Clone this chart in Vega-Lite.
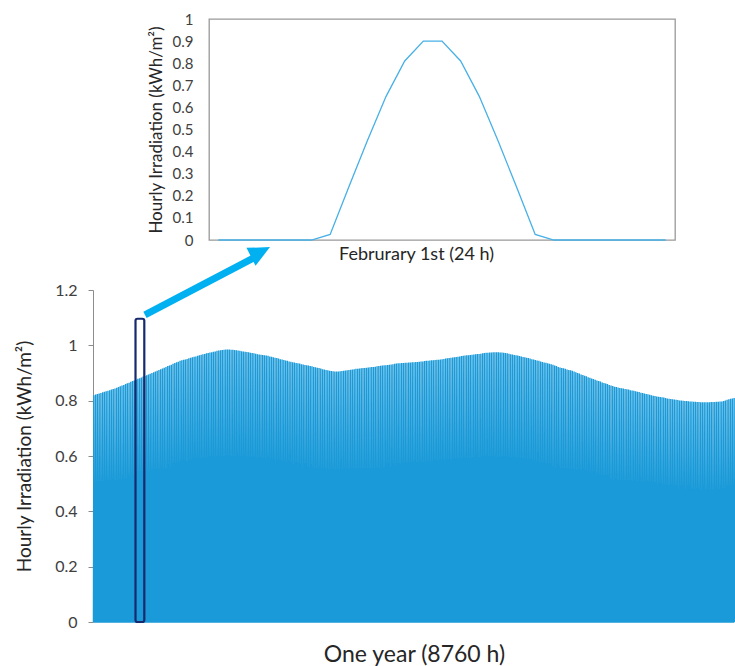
{"$schema":"https://vega.github.io/schema/vega-lite/v6.json","background":"white","padding":{"left":15,"top":11,"right":0,"bottom":0},"config":{"font":"Lato","axis":{"labelColor":"#404040","titleColor":"#262626","titleFontWeight":"normal","grid":false}},"spacing":-17,"vconcat":[{"spacing":0,"hconcat":[{"width":53,"height":1,"data":{"values":[]},"mark":"point","view":{"fill":"white","stroke":null}},{"width":466,"height":221,"view":{"stroke":"#999999","strokeWidth":1.3},"data":{"values":[{"h":0,"v":0},{"h":1,"v":0},{"h":2,"v":0},{"h":3,"v":0},{"h":4,"v":0},{"h":5,"v":0},{"h":6,"v":0.025},{"h":7,"v":0.24},{"h":8,"v":0.45},{"h":9,"v":0.65},{"h":10,"v":0.81},{"h":11,"v":0.9},{"h":12,"v":0.9},{"h":13,"v":0.81},{"h":14,"v":0.65},{"h":15,"v":0.45},{"h":16,"v":0.24},{"h":17,"v":0.025},{"h":18,"v":0},{"h":19,"v":0},{"h":20,"v":0},{"h":21,"v":0},{"h":22,"v":0},{"h":23,"v":0},{"h":24,"v":0}]},"mark":{"type":"line","color":"#47b0e6","strokeWidth":1.3},"encoding":{"x":{"field":"h","type":"quantitative","scale":{"domain":[-0.5,24.5],"nice":false,"zero":false},"axis":{"title":"Februrary 1st (24 h)","labels":false,"ticks":false,"domain":false,"titleFontSize":18,"titlePadding":5,"titleX":207}},"y":{"field":"v","type":"quantitative","scale":{"domain":[0,1],"nice":false},"axis":{"title":"Hourly Irradiation (kWh/m²)","values":[0,0.1,0.2,0.3,0.4,0.5,0.6,0.7,0.8,0.9,1],"format":"~g","ticks":false,"domain":false,"labelFontSize":15,"labelPadding":16,"titleFontSize":17,"titlePadding":7}}}}]},{"width":642,"height":332,"view":{"stroke":null},"encoding":{"x":{"field":"h","type":"quantitative","scale":{"domain":[0,8760],"nice":false,"zero":false},"axis":{"title":"One year (8760 h)","labels":false,"ticks":false,"domain":false,"titleFontSize":23,"titlePadding":21}},"y":{"field":"v","type":"quantitative","scale":{"domain":[0,1.2],"nice":false},"axis":{"title":"Hourly Irradiation (kWh/m²)","values":[0,0.2,0.4,0.6,0.8,1,1.2],"format":"~g","domainColor":"#8c8c8c","tickColor":"#8c8c8c","tickSize":5,"labelFontSize":16,"labelPadding":11,"titleFontSize":19,"titlePadding":20}}},"layer":[{"data":{"values":[{"h":6,"v":0},{"h":12,"v":0.82},{"h":18,"v":0},{"h":30,"v":0},{"h":36,"v":0.822},{"h":42,"v":0},{"h":54,"v":0},{"h":60,"v":0.824},{"h":66,"v":0},{"h":78,"v":0},{"h":84,"v":0.826},{"h":90,"v":0},{"h":102,"v":0},{"h":108,"v":0.828},{"h":114,"v":0},{"h":126,"v":0},{"h":132,"v":0.83},{"h":138,"v":0},{"h":150,"v":0},{"h":156,"v":0.832},{"h":162,"v":0},{"h":174,"v":0},{"h":180,"v":0.834},{"h":186,"v":0},{"h":198,"v":0},{"h":204,"v":0.836},{"h":210,"v":0},{"h":222,"v":0},{"h":228,"v":0.838},{"h":234,"v":0},{"h":246,"v":0},{"h":252,"v":0.84},{"h":258,"v":0},{"h":270,"v":0},{"h":276,"v":0.842},{"h":282,"v":0},{"h":294,"v":0},{"h":300,"v":0.844},{"h":306,"v":0},{"h":318,"v":0},{"h":324,"v":0.847},{"h":330,"v":0},{"h":342,"v":0},{"h":348,"v":0.849},{"h":354,"v":0},{"h":366,"v":0},{"h":372,"v":0.852},{"h":378,"v":0},{"h":390,"v":0},{"h":396,"v":0.855},{"h":402,"v":0},{"h":414,"v":0},{"h":420,"v":0.857},{"h":426,"v":0},{"h":438,"v":0},{"h":444,"v":0.86},{"h":450,"v":0},{"h":462,"v":0},{"h":468,"v":0.863},{"h":474,"v":0},{"h":486,"v":0},{"h":492,"v":0.865},{"h":498,"v":0},{"h":510,"v":0},{"h":516,"v":0.868},{"h":522,"v":0},{"h":534,"v":0},{"h":540,"v":0.871},{"h":546,"v":0},{"h":558,"v":0},{"h":564,"v":0.873},{"h":570,"v":0},{"h":582,"v":0},{"h":588,"v":0.876},{"h":594,"v":0},{"h":606,"v":0},{"h":612,"v":0.879},{"h":618,"v":0},{"h":630,"v":0},{"h":636,"v":0.881},{"h":642,"v":0},{"h":654,"v":0},{"h":660,"v":0.884},{"h":666,"v":0},{"h":678,"v":0},{"h":684,"v":0.887},{"h":690,"v":0},{"h":702,"v":0},{"h":708,"v":0.889},{"h":714,"v":0},{"h":726,"v":0},{"h":732,"v":0.892},{"h":738,"v":0},{"h":750,"v":0},{"h":756,"v":0.895},{"h":762,"v":0},{"h":774,"v":0},{"h":780,"v":0.897},{"h":786,"v":0},{"h":798,"v":0},{"h":804,"v":0.9},{"h":810,"v":0},{"h":822,"v":0},{"h":828,"v":0.903},{"h":834,"v":0},{"h":846,"v":0},{"h":852,"v":0.905},{"h":858,"v":0},{"h":870,"v":0},{"h":876,"v":0.908},{"h":882,"v":0},{"h":894,"v":0},{"h":900,"v":0.911},{"h":906,"v":0},{"h":918,"v":0},{"h":924,"v":0.914},{"h":930,"v":0},{"h":942,"v":0},{"h":948,"v":0.916},{"h":954,"v":0},{"h":966,"v":0},{"h":972,"v":0.919},{"h":978,"v":0},{"h":990,"v":0},{"h":996,"v":0.922},{"h":1002,"v":0},{"h":1014,"v":0},{"h":1020,"v":0.925},{"h":1026,"v":0},{"h":1038,"v":0},{"h":1044,"v":0.927},{"h":1050,"v":0},{"h":1062,"v":0},{"h":1068,"v":0.93},{"h":1074,"v":0},{"h":1086,"v":0},{"h":1092,"v":0.933},{"h":1098,"v":0},{"h":1110,"v":0},{"h":1116,"v":0.936},{"h":1122,"v":0},{"h":1134,"v":0},{"h":1140,"v":0.939},{"h":1146,"v":0},{"h":1158,"v":0},{"h":1164,"v":0.941},{"h":1170,"v":0},{"h":1182,"v":0},{"h":1188,"v":0.944},{"h":1194,"v":0},{"h":1206,"v":0},{"h":1212,"v":0.946},{"h":1218,"v":0},{"h":1230,"v":0},{"h":1236,"v":0.948},{"h":1242,"v":0},{"h":1254,"v":0},{"h":1260,"v":0.949},{"h":1266,"v":0},{"h":1278,"v":0},{"h":1284,"v":0.951},{"h":1290,"v":0},{"h":1302,"v":0},{"h":1308,"v":0.953},{"h":1314,"v":0},{"h":1326,"v":0},{"h":1332,"v":0.955},{"h":1338,"v":0},{"h":1350,"v":0},{"h":1356,"v":0.957},{"h":1362,"v":0},{"h":1374,"v":0},{"h":1380,"v":0.959},{"h":1386,"v":0},{"h":1398,"v":0},{"h":1404,"v":0.96},{"h":1410,"v":0},{"h":1422,"v":0},{"h":1428,"v":0.962},{"h":1434,"v":0},{"h":1446,"v":0},{"h":1452,"v":0.964},{"h":1458,"v":0},{"h":1470,"v":0},{"h":1476,"v":0.966},{"h":1482,"v":0},{"h":1494,"v":0},{"h":1500,"v":0.968},{"h":1506,"v":0},{"h":1518,"v":0},{"h":1524,"v":0.969},{"h":1530,"v":0},{"h":1542,"v":0},{"h":1548,"v":0.971},{"h":1554,"v":0},{"h":1566,"v":0},{"h":1572,"v":0.972},{"h":1578,"v":0},{"h":1590,"v":0},{"h":1596,"v":0.974},{"h":1602,"v":0},{"h":1614,"v":0},{"h":1620,"v":0.975},{"h":1626,"v":0},{"h":1638,"v":0},{"h":1644,"v":0.977},{"h":1650,"v":0},{"h":1662,"v":0},{"h":1668,"v":0.978},{"h":1674,"v":0},{"h":1686,"v":0},{"h":1692,"v":0.98},{"h":1698,"v":0},{"h":1710,"v":0},{"h":1716,"v":0.981},{"h":1722,"v":0},{"h":1734,"v":0},{"h":1740,"v":0.982},{"h":1746,"v":0},{"h":1758,"v":0},{"h":1764,"v":0.983},{"h":1770,"v":0},{"h":1782,"v":0},{"h":1788,"v":0.984},{"h":1794,"v":0},{"h":1806,"v":0},{"h":1812,"v":0.985},{"h":1818,"v":0},{"h":1830,"v":0},{"h":1836,"v":0.985},{"h":1842,"v":0},{"h":1854,"v":0},{"h":1860,"v":0.985},{"h":1866,"v":0},{"h":1878,"v":0},{"h":1884,"v":0.984},{"h":1890,"v":0},{"h":1902,"v":0},{"h":1908,"v":0.984},{"h":1914,"v":0},{"h":1926,"v":0},{"h":1932,"v":0.983},{"h":1938,"v":0},{"h":1950,"v":0},{"h":1956,"v":0.982},{"h":1962,"v":0},{"h":1974,"v":0},{"h":1980,"v":0.981},{"h":1986,"v":0},{"h":1998,"v":0},{"h":2004,"v":0.98},{"h":2010,"v":0},{"h":2022,"v":0},{"h":2028,"v":0.979},{"h":2034,"v":0},{"h":2046,"v":0},{"h":2052,"v":0.978},{"h":2058,"v":0},{"h":2070,"v":0},{"h":2076,"v":0.977},{"h":2082,"v":0},{"h":2094,"v":0},{"h":2100,"v":0.976},{"h":2106,"v":0},{"h":2118,"v":0},{"h":2124,"v":0.975},{"h":2130,"v":0},{"h":2142,"v":0},{"h":2148,"v":0.973},{"h":2154,"v":0},{"h":2166,"v":0},{"h":2172,"v":0.972},{"h":2178,"v":0},{"h":2190,"v":0},{"h":2196,"v":0.971},{"h":2202,"v":0},{"h":2214,"v":0},{"h":2220,"v":0.97},{"h":2226,"v":0},{"h":2238,"v":0},{"h":2244,"v":0.968},{"h":2250,"v":0},{"h":2262,"v":0},{"h":2268,"v":0.967},{"h":2274,"v":0},{"h":2286,"v":0},{"h":2292,"v":0.966},{"h":2298,"v":0},{"h":2310,"v":0},{"h":2316,"v":0.965},{"h":2322,"v":0},{"h":2334,"v":0},{"h":2340,"v":0.964},{"h":2346,"v":0},{"h":2358,"v":0},{"h":2364,"v":0.963},{"h":2370,"v":0},{"h":2382,"v":0},{"h":2388,"v":0.962},{"h":2394,"v":0},{"h":2406,"v":0},{"h":2412,"v":0.96},{"h":2418,"v":0},{"h":2430,"v":0},{"h":2436,"v":0.959},{"h":2442,"v":0},{"h":2454,"v":0},{"h":2460,"v":0.957},{"h":2466,"v":0},{"h":2478,"v":0},{"h":2484,"v":0.955},{"h":2490,"v":0},{"h":2502,"v":0},{"h":2508,"v":0.954},{"h":2514,"v":0},{"h":2526,"v":0},{"h":2532,"v":0.952},{"h":2538,"v":0},{"h":2550,"v":0},{"h":2556,"v":0.95},{"h":2562,"v":0},{"h":2574,"v":0},{"h":2580,"v":0.949},{"h":2586,"v":0},{"h":2598,"v":0},{"h":2604,"v":0.947},{"h":2610,"v":0},{"h":2622,"v":0},{"h":2628,"v":0.945},{"h":2634,"v":0},{"h":2646,"v":0},{"h":2652,"v":0.944},{"h":2658,"v":0},{"h":2670,"v":0},{"h":2676,"v":0.942},{"h":2682,"v":0},{"h":2694,"v":0},{"h":2700,"v":0.941},{"h":2706,"v":0},{"h":2718,"v":0},{"h":2724,"v":0.939},{"h":2730,"v":0},{"h":2742,"v":0},{"h":2748,"v":0.938},{"h":2754,"v":0},{"h":2766,"v":0},{"h":2772,"v":0.936},{"h":2778,"v":0},{"h":2790,"v":0},{"h":2796,"v":0.935},{"h":2802,"v":0},{"h":2814,"v":0},{"h":2820,"v":0.934},{"h":2826,"v":0},{"h":2838,"v":0},{"h":2844,"v":0.932},{"h":2850,"v":0},{"h":2862,"v":0},{"h":2868,"v":0.931},{"h":2874,"v":0},{"h":2886,"v":0},{"h":2892,"v":0.929},{"h":2898,"v":0},{"h":2910,"v":0},{"h":2916,"v":0.928},{"h":2922,"v":0},{"h":2934,"v":0},{"h":2940,"v":0.927},{"h":2946,"v":0},{"h":2958,"v":0},{"h":2964,"v":0.925},{"h":2970,"v":0},{"h":2982,"v":0},{"h":2988,"v":0.924},{"h":2994,"v":0},{"h":3006,"v":0},{"h":3012,"v":0.922},{"h":3018,"v":0},{"h":3030,"v":0},{"h":3036,"v":0.921},{"h":3042,"v":0},{"h":3054,"v":0},{"h":3060,"v":0.919},{"h":3066,"v":0},{"h":3078,"v":0},{"h":3084,"v":0.918},{"h":3090,"v":0},{"h":3102,"v":0},{"h":3108,"v":0.916},{"h":3114,"v":0},{"h":3126,"v":0},{"h":3132,"v":0.914},{"h":3138,"v":0},{"h":3150,"v":0},{"h":3156,"v":0.913},{"h":3162,"v":0},{"h":3174,"v":0},{"h":3180,"v":0.911},{"h":3186,"v":0},{"h":3198,"v":0},{"h":3204,"v":0.91},{"h":3210,"v":0},{"h":3222,"v":0},{"h":3228,"v":0.908},{"h":3234,"v":0},{"h":3246,"v":0},{"h":3252,"v":0.907},{"h":3258,"v":0},{"h":3270,"v":0},{"h":3276,"v":0.906},{"h":3282,"v":0},{"h":3294,"v":0},{"h":3300,"v":0.905},{"h":3306,"v":0},{"h":3318,"v":0},{"h":3324,"v":0.905},{"h":3330,"v":0},{"h":3342,"v":0},{"h":3348,"v":0.905},{"h":3354,"v":0},{"h":3366,"v":0},{"h":3372,"v":0.906},{"h":3378,"v":0},{"h":3390,"v":0},{"h":3396,"v":0.907},{"h":3402,"v":0},{"h":3414,"v":0},{"h":3420,"v":0.908},{"h":3426,"v":0},{"h":3438,"v":0},{"h":3444,"v":0.909},{"h":3450,"v":0},{"h":3462,"v":0},{"h":3468,"v":0.91},{"h":3474,"v":0},{"h":3486,"v":0},{"h":3492,"v":0.911},{"h":3498,"v":0},{"h":3510,"v":0},{"h":3516,"v":0.912},{"h":3522,"v":0},{"h":3534,"v":0},{"h":3540,"v":0.913},{"h":3546,"v":0},{"h":3558,"v":0},{"h":3564,"v":0.914},{"h":3570,"v":0},{"h":3582,"v":0},{"h":3588,"v":0.915},{"h":3594,"v":0},{"h":3606,"v":0},{"h":3612,"v":0.915},{"h":3618,"v":0},{"h":3630,"v":0},{"h":3636,"v":0.916},{"h":3642,"v":0},{"h":3654,"v":0},{"h":3660,"v":0.917},{"h":3666,"v":0},{"h":3678,"v":0},{"h":3684,"v":0.918},{"h":3690,"v":0},{"h":3702,"v":0},{"h":3708,"v":0.918},{"h":3714,"v":0},{"h":3726,"v":0},{"h":3732,"v":0.919},{"h":3738,"v":0},{"h":3750,"v":0},{"h":3756,"v":0.92},{"h":3762,"v":0},{"h":3774,"v":0},{"h":3780,"v":0.921},{"h":3786,"v":0},{"h":3798,"v":0},{"h":3804,"v":0.922},{"h":3810,"v":0},{"h":3822,"v":0},{"h":3828,"v":0.922},{"h":3834,"v":0},{"h":3846,"v":0},{"h":3852,"v":0.923},{"h":3858,"v":0},{"h":3870,"v":0},{"h":3876,"v":0.924},{"h":3882,"v":0},{"h":3894,"v":0},{"h":3900,"v":0.925},{"h":3906,"v":0},{"h":3918,"v":0},{"h":3924,"v":0.926},{"h":3930,"v":0},{"h":3942,"v":0},{"h":3948,"v":0.927},{"h":3954,"v":0},{"h":3966,"v":0},{"h":3972,"v":0.928},{"h":3978,"v":0},{"h":3990,"v":0},{"h":3996,"v":0.928},{"h":4002,"v":0},{"h":4014,"v":0},{"h":4020,"v":0.929},{"h":4026,"v":0},{"h":4038,"v":0},{"h":4044,"v":0.93},{"h":4050,"v":0},{"h":4062,"v":0},{"h":4068,"v":0.931},{"h":4074,"v":0},{"h":4086,"v":0},{"h":4092,"v":0.932},{"h":4098,"v":0},{"h":4110,"v":0},{"h":4116,"v":0.933},{"h":4122,"v":0},{"h":4134,"v":0},{"h":4140,"v":0.934},{"h":4146,"v":0},{"h":4158,"v":0},{"h":4164,"v":0.935},{"h":4170,"v":0},{"h":4182,"v":0},{"h":4188,"v":0.935},{"h":4194,"v":0},{"h":4206,"v":0},{"h":4212,"v":0.936},{"h":4218,"v":0},{"h":4230,"v":0},{"h":4236,"v":0.936},{"h":4242,"v":0},{"h":4254,"v":0},{"h":4260,"v":0.937},{"h":4266,"v":0},{"h":4278,"v":0},{"h":4284,"v":0.937},{"h":4290,"v":0},{"h":4302,"v":0},{"h":4308,"v":0.938},{"h":4314,"v":0},{"h":4326,"v":0},{"h":4332,"v":0.938},{"h":4338,"v":0},{"h":4350,"v":0},{"h":4356,"v":0.939},{"h":4362,"v":0},{"h":4374,"v":0},{"h":4380,"v":0.939},{"h":4386,"v":0},{"h":4398,"v":0},{"h":4404,"v":0.94},{"h":4410,"v":0},{"h":4422,"v":0},{"h":4428,"v":0.94},{"h":4434,"v":0},{"h":4446,"v":0},{"h":4452,"v":0.941},{"h":4458,"v":0},{"h":4470,"v":0},{"h":4476,"v":0.942},{"h":4482,"v":0},{"h":4494,"v":0},{"h":4500,"v":0.942},{"h":4506,"v":0},{"h":4518,"v":0},{"h":4524,"v":0.943},{"h":4530,"v":0},{"h":4542,"v":0},{"h":4548,"v":0.944},{"h":4554,"v":0},{"h":4566,"v":0},{"h":4572,"v":0.944},{"h":4578,"v":0},{"h":4590,"v":0},{"h":4596,"v":0.945},{"h":4602,"v":0},{"h":4614,"v":0},{"h":4620,"v":0.946},{"h":4626,"v":0},{"h":4638,"v":0},{"h":4644,"v":0.946},{"h":4650,"v":0},{"h":4662,"v":0},{"h":4668,"v":0.947},{"h":4674,"v":0},{"h":4686,"v":0},{"h":4692,"v":0.948},{"h":4698,"v":0},{"h":4710,"v":0},{"h":4716,"v":0.948},{"h":4722,"v":0},{"h":4734,"v":0},{"h":4740,"v":0.949},{"h":4746,"v":0},{"h":4758,"v":0},{"h":4764,"v":0.95},{"h":4770,"v":0},{"h":4782,"v":0},{"h":4788,"v":0.951},{"h":4794,"v":0},{"h":4806,"v":0},{"h":4812,"v":0.952},{"h":4818,"v":0},{"h":4830,"v":0},{"h":4836,"v":0.953},{"h":4842,"v":0},{"h":4854,"v":0},{"h":4860,"v":0.954},{"h":4866,"v":0},{"h":4878,"v":0},{"h":4884,"v":0.955},{"h":4890,"v":0},{"h":4902,"v":0},{"h":4908,"v":0.956},{"h":4914,"v":0},{"h":4926,"v":0},{"h":4932,"v":0.957},{"h":4938,"v":0},{"h":4950,"v":0},{"h":4956,"v":0.958},{"h":4962,"v":0},{"h":4974,"v":0},{"h":4980,"v":0.959},{"h":4986,"v":0},{"h":4998,"v":0},{"h":5004,"v":0.96},{"h":5010,"v":0},{"h":5022,"v":0},{"h":5028,"v":0.961},{"h":5034,"v":0},{"h":5046,"v":0},{"h":5052,"v":0.962},{"h":5058,"v":0},{"h":5070,"v":0},{"h":5076,"v":0.963},{"h":5082,"v":0},{"h":5094,"v":0},{"h":5100,"v":0.964},{"h":5106,"v":0},{"h":5118,"v":0},{"h":5124,"v":0.964},{"h":5130,"v":0},{"h":5142,"v":0},{"h":5148,"v":0.965},{"h":5154,"v":0},{"h":5166,"v":0},{"h":5172,"v":0.966},{"h":5178,"v":0},{"h":5190,"v":0},{"h":5196,"v":0.967},{"h":5202,"v":0},{"h":5214,"v":0},{"h":5220,"v":0.968},{"h":5226,"v":0},{"h":5238,"v":0},{"h":5244,"v":0.969},{"h":5250,"v":0},{"h":5262,"v":0},{"h":5268,"v":0.969},{"h":5274,"v":0},{"h":5286,"v":0},{"h":5292,"v":0.97},{"h":5298,"v":0},{"h":5310,"v":0},{"h":5316,"v":0.971},{"h":5322,"v":0},{"h":5334,"v":0},{"h":5340,"v":0.972},{"h":5346,"v":0},{"h":5358,"v":0},{"h":5364,"v":0.973},{"h":5370,"v":0},{"h":5382,"v":0},{"h":5388,"v":0.973},{"h":5394,"v":0},{"h":5406,"v":0},{"h":5412,"v":0.974},{"h":5418,"v":0},{"h":5430,"v":0},{"h":5436,"v":0.974},{"h":5442,"v":0},{"h":5454,"v":0},{"h":5460,"v":0.975},{"h":5466,"v":0},{"h":5478,"v":0},{"h":5484,"v":0.975},{"h":5490,"v":0},{"h":5502,"v":0},{"h":5508,"v":0.975},{"h":5514,"v":0},{"h":5526,"v":0},{"h":5532,"v":0.975},{"h":5538,"v":0},{"h":5550,"v":0},{"h":5556,"v":0.974},{"h":5562,"v":0},{"h":5574,"v":0},{"h":5580,"v":0.974},{"h":5586,"v":0},{"h":5598,"v":0},{"h":5604,"v":0.973},{"h":5610,"v":0},{"h":5622,"v":0},{"h":5628,"v":0.972},{"h":5634,"v":0},{"h":5646,"v":0},{"h":5652,"v":0.971},{"h":5658,"v":0},{"h":5670,"v":0},{"h":5676,"v":0.97},{"h":5682,"v":0},{"h":5694,"v":0},{"h":5700,"v":0.968},{"h":5706,"v":0},{"h":5718,"v":0},{"h":5724,"v":0.967},{"h":5730,"v":0},{"h":5742,"v":0},{"h":5748,"v":0.965},{"h":5754,"v":0},{"h":5766,"v":0},{"h":5772,"v":0.964},{"h":5778,"v":0},{"h":5790,"v":0},{"h":5796,"v":0.963},{"h":5802,"v":0},{"h":5814,"v":0},{"h":5820,"v":0.961},{"h":5826,"v":0},{"h":5838,"v":0},{"h":5844,"v":0.96},{"h":5850,"v":0},{"h":5862,"v":0},{"h":5868,"v":0.958},{"h":5874,"v":0},{"h":5886,"v":0},{"h":5892,"v":0.957},{"h":5898,"v":0},{"h":5910,"v":0},{"h":5916,"v":0.955},{"h":5922,"v":0},{"h":5934,"v":0},{"h":5940,"v":0.954},{"h":5946,"v":0},{"h":5958,"v":0},{"h":5964,"v":0.952},{"h":5970,"v":0},{"h":5982,"v":0},{"h":5988,"v":0.95},{"h":5994,"v":0},{"h":6006,"v":0},{"h":6012,"v":0.949},{"h":6018,"v":0},{"h":6030,"v":0},{"h":6036,"v":0.947},{"h":6042,"v":0},{"h":6054,"v":0},{"h":6060,"v":0.945},{"h":6066,"v":0},{"h":6078,"v":0},{"h":6084,"v":0.944},{"h":6090,"v":0},{"h":6102,"v":0},{"h":6108,"v":0.942},{"h":6114,"v":0},{"h":6126,"v":0},{"h":6132,"v":0.94},{"h":6138,"v":0},{"h":6150,"v":0},{"h":6156,"v":0.938},{"h":6162,"v":0},{"h":6174,"v":0},{"h":6180,"v":0.937},{"h":6186,"v":0},{"h":6198,"v":0},{"h":6204,"v":0.935},{"h":6210,"v":0},{"h":6222,"v":0},{"h":6228,"v":0.933},{"h":6234,"v":0},{"h":6246,"v":0},{"h":6252,"v":0.932},{"h":6258,"v":0},{"h":6270,"v":0},{"h":6276,"v":0.93},{"h":6282,"v":0},{"h":6294,"v":0},{"h":6300,"v":0.927},{"h":6306,"v":0},{"h":6318,"v":0},{"h":6324,"v":0.925},{"h":6330,"v":0},{"h":6342,"v":0},{"h":6348,"v":0.922},{"h":6354,"v":0},{"h":6366,"v":0},{"h":6372,"v":0.92},{"h":6378,"v":0},{"h":6390,"v":0},{"h":6396,"v":0.918},{"h":6402,"v":0},{"h":6414,"v":0},{"h":6420,"v":0.917},{"h":6426,"v":0},{"h":6438,"v":0},{"h":6444,"v":0.915},{"h":6450,"v":0},{"h":6462,"v":0},{"h":6468,"v":0.913},{"h":6474,"v":0},{"h":6486,"v":0},{"h":6492,"v":0.911},{"h":6498,"v":0},{"h":6510,"v":0},{"h":6516,"v":0.91},{"h":6522,"v":0},{"h":6534,"v":0},{"h":6540,"v":0.908},{"h":6546,"v":0},{"h":6558,"v":0},{"h":6564,"v":0.905},{"h":6570,"v":0},{"h":6582,"v":0},{"h":6588,"v":0.903},{"h":6594,"v":0},{"h":6606,"v":0},{"h":6612,"v":0.9},{"h":6618,"v":0},{"h":6630,"v":0},{"h":6636,"v":0.898},{"h":6642,"v":0},{"h":6654,"v":0},{"h":6660,"v":0.895},{"h":6666,"v":0},{"h":6678,"v":0},{"h":6684,"v":0.893},{"h":6690,"v":0},{"h":6702,"v":0},{"h":6708,"v":0.89},{"h":6714,"v":0},{"h":6726,"v":0},{"h":6732,"v":0.888},{"h":6738,"v":0},{"h":6750,"v":0},{"h":6756,"v":0.885},{"h":6762,"v":0},{"h":6774,"v":0},{"h":6780,"v":0.883},{"h":6786,"v":0},{"h":6798,"v":0},{"h":6804,"v":0.88},{"h":6810,"v":0},{"h":6822,"v":0},{"h":6828,"v":0.878},{"h":6834,"v":0},{"h":6846,"v":0},{"h":6852,"v":0.876},{"h":6858,"v":0},{"h":6870,"v":0},{"h":6876,"v":0.873},{"h":6882,"v":0},{"h":6894,"v":0},{"h":6900,"v":0.871},{"h":6906,"v":0},{"h":6918,"v":0},{"h":6924,"v":0.869},{"h":6930,"v":0},{"h":6942,"v":0},{"h":6948,"v":0.866},{"h":6954,"v":0},{"h":6966,"v":0},{"h":6972,"v":0.864},{"h":6978,"v":0},{"h":6990,"v":0},{"h":6996,"v":0.862},{"h":7002,"v":0},{"h":7014,"v":0},{"h":7020,"v":0.86},{"h":7026,"v":0},{"h":7038,"v":0},{"h":7044,"v":0.857},{"h":7050,"v":0},{"h":7062,"v":0},{"h":7068,"v":0.855},{"h":7074,"v":0},{"h":7086,"v":0},{"h":7092,"v":0.853},{"h":7098,"v":0},{"h":7110,"v":0},{"h":7116,"v":0.85},{"h":7122,"v":0},{"h":7134,"v":0},{"h":7140,"v":0.849},{"h":7146,"v":0},{"h":7158,"v":0},{"h":7164,"v":0.848},{"h":7170,"v":0},{"h":7182,"v":0},{"h":7188,"v":0.846},{"h":7194,"v":0},{"h":7206,"v":0},{"h":7212,"v":0.845},{"h":7218,"v":0},{"h":7230,"v":0},{"h":7236,"v":0.844},{"h":7242,"v":0},{"h":7254,"v":0},{"h":7260,"v":0.842},{"h":7266,"v":0},{"h":7278,"v":0},{"h":7284,"v":0.841},{"h":7290,"v":0},{"h":7302,"v":0},{"h":7308,"v":0.84},{"h":7314,"v":0},{"h":7326,"v":0},{"h":7332,"v":0.838},{"h":7338,"v":0},{"h":7350,"v":0},{"h":7356,"v":0.837},{"h":7362,"v":0},{"h":7374,"v":0},{"h":7380,"v":0.836},{"h":7386,"v":0},{"h":7398,"v":0},{"h":7404,"v":0.834},{"h":7410,"v":0},{"h":7422,"v":0},{"h":7428,"v":0.832},{"h":7434,"v":0},{"h":7446,"v":0},{"h":7452,"v":0.831},{"h":7458,"v":0},{"h":7470,"v":0},{"h":7476,"v":0.829},{"h":7482,"v":0},{"h":7494,"v":0},{"h":7500,"v":0.828},{"h":7506,"v":0},{"h":7518,"v":0},{"h":7524,"v":0.826},{"h":7530,"v":0},{"h":7542,"v":0},{"h":7548,"v":0.824},{"h":7554,"v":0},{"h":7566,"v":0},{"h":7572,"v":0.823},{"h":7578,"v":0},{"h":7590,"v":0},{"h":7596,"v":0.821},{"h":7602,"v":0},{"h":7614,"v":0},{"h":7620,"v":0.82},{"h":7626,"v":0},{"h":7638,"v":0},{"h":7644,"v":0.818},{"h":7650,"v":0},{"h":7662,"v":0},{"h":7668,"v":0.817},{"h":7674,"v":0},{"h":7686,"v":0},{"h":7692,"v":0.815},{"h":7698,"v":0},{"h":7710,"v":0},{"h":7716,"v":0.814},{"h":7722,"v":0},{"h":7734,"v":0},{"h":7740,"v":0.813},{"h":7746,"v":0},{"h":7758,"v":0},{"h":7764,"v":0.812},{"h":7770,"v":0},{"h":7782,"v":0},{"h":7788,"v":0.811},{"h":7794,"v":0},{"h":7806,"v":0},{"h":7812,"v":0.81},{"h":7818,"v":0},{"h":7830,"v":0},{"h":7836,"v":0.808},{"h":7842,"v":0},{"h":7854,"v":0},{"h":7860,"v":0.807},{"h":7866,"v":0},{"h":7878,"v":0},{"h":7884,"v":0.806},{"h":7890,"v":0},{"h":7902,"v":0},{"h":7908,"v":0.805},{"h":7914,"v":0},{"h":7926,"v":0},{"h":7932,"v":0.804},{"h":7938,"v":0},{"h":7950,"v":0},{"h":7956,"v":0.803},{"h":7962,"v":0},{"h":7974,"v":0},{"h":7980,"v":0.802},{"h":7986,"v":0},{"h":7998,"v":0},{"h":8004,"v":0.801},{"h":8010,"v":0},{"h":8022,"v":0},{"h":8028,"v":0.801},{"h":8034,"v":0},{"h":8046,"v":0},{"h":8052,"v":0.8},{"h":8058,"v":0},{"h":8070,"v":0},{"h":8076,"v":0.799},{"h":8082,"v":0},{"h":8094,"v":0},{"h":8100,"v":0.799},{"h":8106,"v":0},{"h":8118,"v":0},{"h":8124,"v":0.798},{"h":8130,"v":0},{"h":8142,"v":0},{"h":8148,"v":0.797},{"h":8154,"v":0},{"h":8166,"v":0},{"h":8172,"v":0.797},{"h":8178,"v":0},{"h":8190,"v":0},{"h":8196,"v":0.796},{"h":8202,"v":0},{"h":8214,"v":0},{"h":8220,"v":0.796},{"h":8226,"v":0},{"h":8238,"v":0},{"h":8244,"v":0.795},{"h":8250,"v":0},{"h":8262,"v":0},{"h":8268,"v":0.795},{"h":8274,"v":0},{"h":8286,"v":0},{"h":8292,"v":0.794},{"h":8298,"v":0},{"h":8310,"v":0},{"h":8316,"v":0.794},{"h":8322,"v":0},{"h":8334,"v":0},{"h":8340,"v":0.794},{"h":8346,"v":0},{"h":8358,"v":0},{"h":8364,"v":0.794},{"h":8370,"v":0},{"h":8382,"v":0},{"h":8388,"v":0.794},{"h":8394,"v":0},{"h":8406,"v":0},{"h":8412,"v":0.794},{"h":8418,"v":0},{"h":8430,"v":0},{"h":8436,"v":0.795},{"h":8442,"v":0},{"h":8454,"v":0},{"h":8460,"v":0.795},{"h":8466,"v":0},{"h":8478,"v":0},{"h":8484,"v":0.795},{"h":8490,"v":0},{"h":8502,"v":0},{"h":8508,"v":0.796},{"h":8514,"v":0},{"h":8526,"v":0},{"h":8532,"v":0.796},{"h":8538,"v":0},{"h":8550,"v":0},{"h":8556,"v":0.797},{"h":8562,"v":0},{"h":8574,"v":0},{"h":8580,"v":0.797},{"h":8586,"v":0},{"h":8598,"v":0},{"h":8604,"v":0.799},{"h":8610,"v":0},{"h":8622,"v":0},{"h":8628,"v":0.801},{"h":8634,"v":0},{"h":8646,"v":0},{"h":8652,"v":0.803},{"h":8658,"v":0},{"h":8670,"v":0},{"h":8676,"v":0.805},{"h":8682,"v":0},{"h":8694,"v":0},{"h":8700,"v":0.807},{"h":8706,"v":0},{"h":8718,"v":0},{"h":8724,"v":0.808},{"h":8730,"v":0},{"h":8742,"v":0},{"h":8748,"v":0.81},{"h":8754,"v":0}]},"mark":{"type":"line","color":"#1a9ad8","strokeWidth":1.4},"encoding":{}},{"data":{"values":[{"h":580,"h2":700,"v":0,"v2":1.096}]},"mark":{"type":"rect","fillOpacity":0,"stroke":"#172a6e","strokeWidth":2.2,"cornerRadius":2},"encoding":{"x2":{"field":"h2"},"y2":{"field":"v2"}}},{"data":{"values":[{"h":709,"h2":2200,"v":1.11,"v2":1.317}]},"mark":{"type":"rule","color":"#00b0f0","strokeWidth":7},"encoding":{"x2":{"field":"h2"},"y2":{"field":"v2"}}},{"data":{"values":[{"h":2415,"v":1.355}]},"mark":{"type":"point","shape":"M0,0L-0.47,1L0.47,1Z","size":1815,"angle":63,"filled":true,"color":"#00b0f0","opacity":1,"strokeWidth":0}}]}]}
